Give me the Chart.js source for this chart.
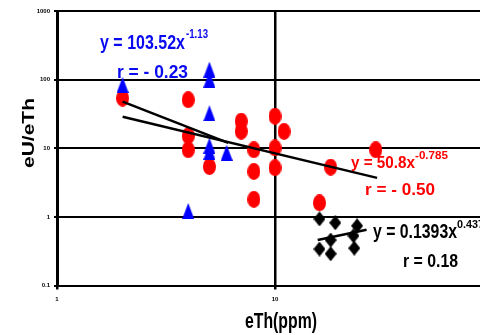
<!DOCTYPE html>
<html><head><meta charset="utf-8">
<script src="https://cdn.jsdelivr.net/npm/chart.js@4.4.1/dist/chart.umd.min.js"></script>
<style>
html,body{margin:0;padding:0;background:#fff;overflow:hidden;width:480px;height:335px;}
#wrap{position:relative;width:500px;height:335px;}
</style></head><body>
<div id="wrap"><canvas id="c"></canvas></div>
<script>
// ---- data ----
const blueX = [2.0, 5.0, 5.0, 5.0, 5.0, 5.0, 6.0, 4.0];
const blueY = [84, 140, 100, 32.4, 10.9, 8.9, 8.6, 1.22];
const redX = [2.0, 4.0, 4.0, 4.0, 5.0, 7.0, 7.0, 8.0, 8.0, 8.0, 10.0, 10.0, 10.0, 11.0, 16.0, 18.0, 29.0];
const redY = [53.7, 51, 15.2, 9.5, 5.4, 24.8, 17.7, 9.5, 4.6, 1.8, 29.3, 10.1, 5.2, 17.6, 1.6, 5.3, 9.5];
const blackX = [16.0, 18.9, 23.8, 22.9, 18.0, 16.0, 18.0, 23.1];
const blackY = [0.935, 0.82, 0.74, 0.53, 0.46, 0.34, 0.29, 0.35];
const blueTrendX = [2.0, 6.1];
const blueTrendY = [47.7, 12.0];
const redTrendX = [2.0, 29.4];
const redTrendY = [28.8, 3.7];
const blackTrendX = [15.7, 26.3];
const blackTrendY = [0.46, 0.65];
const xTicks = [1, 10, 100];
const xTickLabels = ['1', '10', '100'];
const yTicks = [0.1, 1, 10, 100, 1000];
const yTickLabels = ['0.1', '1', '10', '100', '1000'];
const xTitle = 'eTh(ppm)';
const yTitle = 'eU/eTh';

const pts = (xs, ys) => xs.map((x, i) => ({x: x, y: ys[i]}));

function shape(kind, color, w, h) {
  const c = document.createElement('canvas');
  c.width = w; c.height = h;
  const g = c.getContext('2d');
  g.fillStyle = color;
  g.beginPath();
  if (kind === 'ellipse') g.ellipse(w/2, h/2, w/2, h/2, 0, 0, Math.PI*2);
  else if (kind === 'tri') { g.moveTo(w/2, 0); g.lineTo(w, h); g.lineTo(0, h); g.closePath(); }
  else { g.moveTo(w/2, 0); g.lineTo(w, h/2); g.lineTo(w/2, h); g.lineTo(0, h/2); g.closePath(); }
  g.fill();
  return c;
}
const triImg = shape('tri', '#0000ff', 12, 16);
const ellImg = shape('ellipse', '#ff0000', 13, 17);
const diaImg = shape('dia', '#000000', 12, 15);

// annotation layout (text, colour, left px, width px, middle px, font size)
const notes = [
  ['y = 103.52x', '#0a0af0', 100, 85, 41, 21],
  ['-1.13', '#0a0af0', 186, 22, 34, 12],
  ['r = - 0.23', '#0a0af0', 117, 71, 71, 19],
  ['y = 50.8x', '#ff0000', 351, 64, 162, 17],
  ['-0.785', '#ff0000', 415, 33, 155, 11],
  ['r = - 0.50', '#ff0000', 365, 70, 189, 17],
  ['y = 0.1393x', '#000000', 373, 84, 231, 20],
  ['0.437', '#000000', 457, 27, 224, 11],
  ['r = 0.18', '#000000', 403, 55, 260, 19]
];

const notePlugin = {
  id: 'notes',
  afterDatasetsDraw(chart) {
    const ctx = chart.ctx;
    notes.forEach(n => {
      const [t, col, left, w, mid, size] = n;
      ctx.save();
      ctx.font = 'bold ' + size + 'px "Liberation Sans", Arial, sans-serif';
      const mw = ctx.measureText(t).width;
      ctx.translate(left, mid + size * 0.716 / 2);
      ctx.scale(w / mw, 1);
      ctx.fillStyle = col;
      ctx.textBaseline = 'alphabetic';
      ctx.textAlign = 'left';
      ctx.fillText(t, 0, 0);
      ctx.restore();
    });
    // axis titles (condensed like the reference)
    ctx.save();
    ctx.fillStyle = '#000';
    ctx.font = 'bold 22px "Liberation Sans", Arial, sans-serif';
    let mw = ctx.measureText(xTitle).width;
    ctx.translate(281, 328);
    ctx.scale(72 / mw, 1);
    ctx.textAlign = 'center';
    ctx.textBaseline = 'alphabetic';
    ctx.fillText(xTitle, 0, 0);
    ctx.restore();
    ctx.save();
    ctx.fillStyle = '#000';
    ctx.font = 'bold 21px "Liberation Sans", Arial, sans-serif';
    mw = ctx.measureText(yTitle).width;
    ctx.translate(34, 133);
    ctx.rotate(-Math.PI / 2);
    ctx.scale(70 / mw, 0.82);
    ctx.textAlign = 'center';
    ctx.textBaseline = 'alphabetic';
    ctx.fillText(yTitle, 0, 0);
    ctx.restore();
  }
};

const lineDs = (xs, ys) => ({
  type: 'scatter', data: pts(xs, ys), showLine: true, borderColor: '#000', borderWidth: 2.5,
  pointRadius: 0, fill: false, order: 0
});

new Chart(document.getElementById('c'), {
  type: 'scatter',
  data: {
    datasets: [
      lineDs(blueTrendX, blueTrendY),
      lineDs(redTrendX, redTrendY),
      lineDs(blackTrendX, blackTrendY),
      {data: pts(blueX, blueY), pointStyle: triImg, pointRadius: 6, order: 1},
      {data: pts(redX, redY), pointStyle: ellImg, pointRadius: 6, order: 2},
      {data: pts(blackX, blackY), pointStyle: diaImg, pointRadius: 6, order: 3}
    ]
  },
  options: {
    responsive: true, maintainAspectRatio: false, animation: false, devicePixelRatio: 1,
    layout: {padding: {top: 11, left: 0, right: 3, bottom: 0}},
    plugins: {legend: {display: false}, tooltip: {enabled: false}},
    scales: {
      x: {
        type: 'logarithmic', min: 1, max: 100,
        afterBuildTicks: s => { s.ticks = xTicks.map(v => ({value: v})); },
        afterFit: s => { s.height = 49.5; s.paddingLeft = 0; s.paddingRight = 0; },
        border: {display: true, color: '#000', width: 2},
        grid: {color: '#000', lineWidth: 2.5, drawTicks: true, tickLength: 4, tickColor: '#000'},
        ticks: {callback: (v, i) => xTickLabels[i], font: {size: 6, weight: 'bold', family: 'Liberation Sans'}, color: '#000', padding: 6, maxRotation: 0, autoSkip: false},
        title: {display: false, text: xTitle}
      },
      y: {
        type: 'logarithmic', min: 0.1, max: 1000,
        afterBuildTicks: s => { s.ticks = yTicks.map(v => ({value: v})); },
        afterFit: s => { s.width = 57; s.paddingTop = 0; s.paddingBottom = 0; },
        border: {display: true, color: '#000', width: 3},
        grid: {color: '#000', lineWidth: 2, drawTicks: true, tickLength: 3, tickColor: '#000'},
        ticks: {callback: (v, i) => yTickLabels[i], font: {size: 6, weight: 'bold', family: 'Liberation Sans'}, color: '#000', padding: 4, autoSkip: false},
        title: {display: false, text: yTitle}
      }
    }
  },
  plugins: [notePlugin]
});
</script>
</body></html>
